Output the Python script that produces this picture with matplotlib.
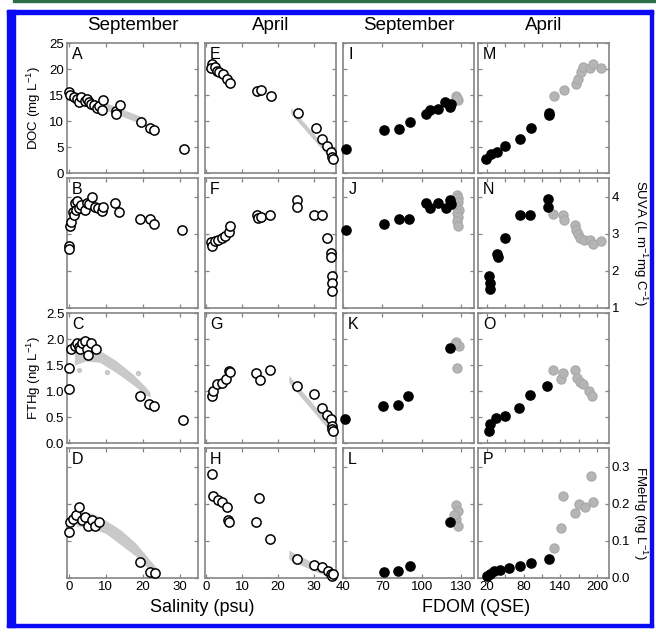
import matplotlib
matplotlib.use('Agg')
import matplotlib.pyplot as plt
from matplotlib.patches import Rectangle

plt.rcParams['font.family'] = ['Liberation Sans', 'DejaVu Sans']
plt.rcParams['mathtext.default'] = 'regular'

# ---- data ----
months = ['September', 'April', 'September', 'April']

# Row 1: DOC (mg/L)
a_sal = [0.1, 0.3, 1.35, 2.2, 2.7, 3.4, 4.3, 5.0, 5.5, 6.1, 6.8, 7.5, 8.1, 9.0, 9.3, 12.7, 12.7, 13.8, 19.6, 21.9, 23.2, 31.2]
a_doc = [15.5, 15.0, 14.6, 14.3, 13.7, 14.6, 13.9, 14.3, 13.6, 13.3, 13.0, 12.5, 12.8, 12.2, 14.1, 12.0, 11.3, 13.1, 9.9, 8.6, 8.2, 4.7]
a_band_sal = [2, 6, 10, 14, 18, 20.5]
a_band_lo = [13.6, 12.9, 12.1, 11.0, 9.9, 9.3]
a_band_hi = [15.0, 14.3, 13.5, 12.4, 11.3, 10.7]

e_sal = [1.6, 1.3, 2.5, 3.1, 3.7, 4.6, 5.7, 6.7, 14.1, 15.3, 18.1, 25.6, 30.5, 32.3, 33.7, 34.6, 35.1, 35.2]
e_doc = [21.0, 20.1, 20.3, 19.7, 19.4, 19.0, 18.1, 17.3, 15.7, 16.0, 14.9, 11.5, 8.6, 6.5, 5.2, 4.1, 3.0, 2.6]
e_band_sal = [23.5, 27, 30, 33, 35.8]
e_band_lo = [11.4, 8.7, 6.3, 4.0, 1.8]
e_band_hi = [12.6, 9.9, 7.5, 5.2, 3.0]

i_fdom = [42.3, 71.5, 83.1, 90.8, 103.6, 106.2, 112.6, 117.9, 121.8, 122.3]
i_doc = [4.7, 8.3, 8.5, 9.9, 11.3, 12.1, 12.4, 13.6, 12.6, 13.3]
i_fdom_g = [126.2, 127.9, 127.0]
i_doc_g = [14.8, 14.0, 14.4]

m_fdom = [18.7, 26.9, 36.8, 50.0, 73.1, 91.3, 121.0, 121.0]
m_doc = [2.65, 3.6, 4.1, 5.2, 6.5, 8.6, 11.5, 11.2]
m_fdom_g = [129.0, 145.6, 165.4, 168.5, 173.6, 176.9, 188.5, 193.4, 206.6]
m_doc_g = [14.9, 15.9, 17.2, 18.1, 19.4, 20.4, 20.1, 21.0, 20.1]

# Row 2: SUVA
b_sal = [0.1, 0.1, 0.3, 0.7, 1.0, 1.35, 1.6, 1.9, 2.2, 2.8, 3.4, 4.3, 5.0, 5.5, 6.4, 7.0, 7.8, 9.1, 9.3, 12.4, 13.6, 19.4, 21.9, 23.2, 30.7]
b_suva = [2.68, 2.59, 3.2, 3.32, 3.59, 3.5, 3.82, 3.63, 3.89, 3.68, 3.77, 3.63, 3.82, 3.79, 4.0, 3.72, 3.68, 3.62, 3.72, 3.82, 3.59, 3.39, 3.39, 3.25, 3.09]

f_sal = [1.3, 1.6, 2.5, 3.4, 4.4, 5.3, 6.5, 6.7, 14.1, 14.3, 15.3, 17.8, 25.2, 25.2, 30.0, 32.3, 33.5, 34.6, 34.6, 35.1, 34.9, 34.9]
f_suva = [2.77, 2.68, 2.80, 2.82, 2.89, 2.95, 3.04, 3.2, 3.5, 3.41, 3.45, 3.5, 3.91, 3.71, 3.5, 3.5, 2.89, 2.47, 2.38, 1.86, 1.68, 1.47]

j_fdom = [42.3, 71.0, 82.6, 90.2, 103.1, 106.2, 112.6, 118.5, 121.8, 122.3]
j_suva = [3.09, 3.25, 3.39, 3.39, 3.82, 3.70, 3.82, 3.68, 3.91, 3.79]
j_fdom_g = [127.0, 128.0, 127.5, 126.5, 128.2, 127.0, 127.8, 126.8, 127.6]
j_suva_g = [4.04, 3.95, 3.85, 3.75, 3.65, 3.55, 3.45, 3.35, 3.22]

n_fdom = [22.4, 24.0, 24.0, 36.4, 37.3, 50.0, 73.6, 90.0, 119.8, 119.8]
n_suva = [1.86, 1.68, 1.50, 2.45, 2.36, 2.89, 3.5, 3.5, 3.93, 3.72]
n_fdom_g = [128.6, 143.5, 145.1, 163.7, 165.4, 169.3, 172.4, 179.0, 188.5, 193.0, 206.6]
n_suva_g = [3.54, 3.5, 3.36, 3.23, 3.09, 2.98, 2.89, 2.82, 2.82, 2.71, 2.8]

# Row 3: FTHg (ng/L)
c_sal = [0.0, 0.1, 0.5, 1.6, 2.2, 2.8, 3.0, 3.7, 4.3, 5.0, 5.2, 5.9, 7.3, 19.2, 21.6, 23.1, 30.9]
c_thg = [1.04, 1.45, 1.81, 1.86, 1.93, 1.85, 1.80, 1.93, 1.96, 1.81, 1.69, 1.93, 1.80, 0.91, 0.75, 0.71, 0.45]
c_band_sal = [1.5, 4.7, 8.4, 12.9, 17.4, 20.5, 22.0]
c_band_lo = [1.50, 1.58, 1.55, 1.35, 1.12, 0.94, 0.88]
c_band_hi = [1.76, 1.82, 1.78, 1.58, 1.32, 1.10, 0.98]
c_dot_sal = [2.7, 10.3, 18.8, 20.0, 6.0]
c_dot_thg = [1.40, 1.37, 1.35, 1.05, 1.62]

g_sal = [1.6, 2.0, 3.0, 4.4, 5.5, 6.5, 6.7, 13.8, 15.0, 17.8, 25.2, 30.1, 32.1, 33.5, 34.6, 34.9, 34.9, 35.2]
g_thg = [0.91, 1.00, 1.13, 1.16, 1.24, 1.39, 1.37, 1.34, 1.21, 1.40, 1.10, 0.94, 0.67, 0.53, 0.46, 0.32, 0.27, 0.24]
g_band_sal = [23, 26, 29, 32, 35.4]
g_band_lo = [1.16, 0.91, 0.67, 0.42, 0.14]
g_band_hi = [1.30, 1.05, 0.81, 0.56, 0.28]

k_fdom = [41.5, 70.5, 82.1, 89.8, 121.8]
k_thg = [0.46, 0.71, 0.73, 0.91, 1.82]
k_fdom_g = [126.2, 128.2, 126.9, 125.5]
k_thg_g = [1.94, 1.86, 1.45, 1.90]

o_fdom = [22.4, 25.3, 35.2, 50.0, 71.9, 89.6, 118.7]
o_thg = [0.24, 0.37, 0.48, 0.52, 0.67, 0.93, 1.09]
o_fdom_g = [128.0, 140.6, 144.5, 164.3, 166.6, 172.4, 177.4, 187.3, 191.8]
o_thg_g = [1.40, 1.23, 1.34, 1.40, 1.25, 1.18, 1.13, 1.00, 0.91]

# Row 4: FMeHg (ng/L)
d_sal = [0.0, 0.2, 1.0, 1.9, 2.7, 3.6, 4.5, 5.3, 6.2, 7.2, 8.1, 19.2, 21.9, 23.4]
d_mehg = [0.125, 0.15, 0.16, 0.17, 0.19, 0.155, 0.165, 0.14, 0.155, 0.14, 0.15, 0.043, 0.015, 0.014]
d_band_sal = [2, 6, 10, 14, 18, 21, 23.5]
d_band_lo = [0.14, 0.135, 0.12, 0.09, 0.06, 0.03, 0.012]
d_band_hi = [0.18, 0.175, 0.155, 0.13, 0.095, 0.06, 0.03]

h_sal = [1.7, 1.9, 3.2, 4.4, 5.7, 6.1, 6.4, 14.7, 13.9, 17.8, 25.3, 30.0, 32.2, 33.9, 34.7, 35.1, 35.2]
h_mehg = [0.28, 0.22, 0.21, 0.205, 0.19, 0.155, 0.15, 0.215, 0.15, 0.105, 0.05, 0.035, 0.03, 0.02, 0.012, 0.006, 0.012]
h_band_sal = [23, 27, 31, 35.5]
h_band_lo = [0.05, 0.032, 0.015, 0.0]
h_band_hi = [0.075, 0.055, 0.035, 0.012]

l_fdom = [71.5, 82.0, 90.8, 121.8]
l_mehg = [0.015, 0.02, 0.032, 0.15]
l_fdom_g = [126.2, 127.7, 126.2, 127.7, 124.8]
l_mehg_g = [0.197, 0.18, 0.16, 0.14, 0.17]

p_fdom = [20.0, 25.3, 31.9, 41.8, 55.0, 73.1, 91.3, 121.0]
p_mehg = [0.005, 0.012, 0.018, 0.022, 0.027, 0.032, 0.04, 0.05]
p_fdom_g = [129.0, 140.6, 143.9, 163.7, 170.3, 180.2, 190.1, 193.4]
p_mehg_g = [0.08, 0.135, 0.22, 0.175, 0.2, 0.19, 0.275, 0.205]

# axis setup
x_lims = [(-0.5, 35), (-0.3, 36.1), (40, 140), (5, 219.5)]
x_ticks = [[0, 10, 20, 30], [0, 10, 20, 30], [40, 70, 100, 130], [20, 50, 80, 110, 140, 170, 200]]
x_labels = [['0', '10', '20', '30'], ['0', '10', '20', '30'], ['40', '70', '100', '130'],
            ['20', '', '80', '', '140', '', '200']]
y_lims = [(0, 25), (1, 4.5), (0, 2.5), (0, 0.35)]
y_ticks = [[0, 5, 10, 15, 20, 25], [1, 2, 3, 4], [0, 0.5, 1.0, 1.5, 2.0, 2.5], [0, 0.1, 0.2, 0.3]]
y_labels = [['0', '5', '10', '15', '20', '25'], ['1', '2', '3', '4'],
            ['0.0', '0.5', '1.0', '1.5', '2.0', '2.5'], ['0.0', '0.1', '0.2', '0.3']]
letters = [['A', 'E', 'I', 'M'], ['B', 'F', 'J', 'N'], ['C', 'G', 'K', 'O'], ['D', 'H', 'L', 'P']]

W, H = 656, 632
fig = plt.figure(figsize=(W / 100, H / 100), dpi=100)
col_left = [67, 205, 343, 478]
row_top = [43, 178, 313, 448]
aw, ah = 131, 130

GRAY_BAND = '#c9c9c9'
GRAY_PT = '#b5b5b5'
MS = 44

axes = {}
for r in range(4):
    for c in range(4):
        ax = fig.add_axes([col_left[c] / W, 1 - (row_top[r] + ah) / H, aw / W, ah / H])
        for s in ax.spines.values():
            s.set_color('#858585')
            s.set_linewidth(1.2)
        ax.set_xlim(*x_lims[c])
        ax.set_ylim(*y_lims[r])
        ax.set_xticks(x_ticks[c])
        ax.set_xticklabels(x_labels[c])
        ax.set_yticks(y_ticks[r])
        ax.set_yticklabels(y_labels[r])
        ax.tick_params(direction='in', top=True, right=True, length=3, width=0.9,
                       color='#858585', labelsize=9.5, pad=2,
                       labelbottom=(r == 3),
                       labelleft=(c == 0 and r in (0, 2)),
                       labelright=(c == 3 and r in (1, 3)))
        ax.text(0.04, 0.97, letters[r][c], transform=ax.transAxes, ha='left', va='top', fontsize=11.5)
        axes[(r, c)] = ax


def open_pts(ax, x, y):
    ax.scatter(x, y, s=MS, facecolor='white', edgecolor='black', linewidth=1.1, zorder=4, clip_on=False)


def black_pts(ax, x, y):
    ax.scatter(x, y, s=MS, facecolor='black', edgecolor='black', linewidth=1.0, zorder=4, clip_on=False)


def gray_pts(ax, x, y):
    ax.scatter(x, y, s=MS, facecolor=GRAY_PT, edgecolor='#a8a8a8', linewidth=0.8, zorder=3, clip_on=False)


def band(ax, x, lo, hi):
    ax.fill_between(x, lo, hi, color=GRAY_BAND, linewidth=0, zorder=1)


# column 1: September salinity
band(axes[(0, 0)], a_band_sal, a_band_lo, a_band_hi)
open_pts(axes[(0, 0)], a_sal, a_doc)
open_pts(axes[(1, 0)], b_sal, b_suva)
band(axes[(2, 0)], c_band_sal, c_band_lo, c_band_hi)
axes[(2, 0)].scatter(c_dot_sal, c_dot_thg, s=8, color=GRAY_BAND, zorder=1)
open_pts(axes[(2, 0)], c_sal, c_thg)
band(axes[(3, 0)], d_band_sal, d_band_lo, d_band_hi)
open_pts(axes[(3, 0)], d_sal, d_mehg)

# column 2: April salinity
band(axes[(0, 1)], e_band_sal, e_band_lo, e_band_hi)
open_pts(axes[(0, 1)], e_sal, e_doc)
open_pts(axes[(1, 1)], f_sal, f_suva)
band(axes[(2, 1)], g_band_sal, g_band_lo, g_band_hi)
open_pts(axes[(2, 1)], g_sal, g_thg)
band(axes[(3, 1)], h_band_sal, h_band_lo, h_band_hi)
open_pts(axes[(3, 1)], h_sal, h_mehg)

# column 3: September FDOM
gray_pts(axes[(0, 2)], i_fdom_g, i_doc_g)
black_pts(axes[(0, 2)], i_fdom, i_doc)
gray_pts(axes[(1, 2)], j_fdom_g, j_suva_g)
black_pts(axes[(1, 2)], j_fdom, j_suva)
gray_pts(axes[(2, 2)], k_fdom_g, k_thg_g)
black_pts(axes[(2, 2)], k_fdom, k_thg)
gray_pts(axes[(3, 2)], l_fdom_g, l_mehg_g)
black_pts(axes[(3, 2)], l_fdom, l_mehg)

# column 4: April FDOM
gray_pts(axes[(0, 3)], m_fdom_g, m_doc_g)
black_pts(axes[(0, 3)], m_fdom, m_doc)
gray_pts(axes[(1, 3)], n_fdom_g, n_suva_g)
black_pts(axes[(1, 3)], n_fdom, n_suva)
gray_pts(axes[(2, 3)], o_fdom_g, o_thg_g)
black_pts(axes[(2, 3)], o_fdom, o_thg)
gray_pts(axes[(3, 3)], p_fdom_g, p_mehg_g)
black_pts(axes[(3, 3)], p_fdom, p_mehg)

# titles and labels
for c in range(4):
    fig.text((col_left[c] + aw / 2) / W, 1 - 25 / H, months[c], ha='center', va='center', fontsize=13.5)

fig.text(34 / W, 1 - 108 / H, 'DOC (mg L$^{-1}$)', rotation=90, ha='center', va='center', fontsize=9.5)
fig.text(34 / W, 1 - 378 / H, 'FTHg (ng L$^{-1}$)', rotation=90, ha='center', va='center', fontsize=9.5)
fig.text(640 / W, 1 - 243 / H, 'SUVA (L m$^{-1}$mg C$^{-1}$)', rotation=270, ha='center', va='center', fontsize=9.5)
fig.text(640 / W, 1 - 513 / H, 'FMeHg (ng L$^{-1}$)', rotation=270, ha='center', va='center', fontsize=9.5)
fig.text(202 / W, 1 - 607 / H, 'Salinity (psu)', ha='center', va='center', fontsize=13)
fig.text(476 / W, 1 - 607 / H, 'FDOM (QSE)', ha='center', va='center', fontsize=13)

# page frame
fig.patches.append(Rectangle((13 / W, 1 - 2 / H), 1, 2 / H, transform=fig.transFigure, color='#2e6e46', zorder=0))
blue = '#0a0af5'
fig.patches.append(Rectangle((7 / W, 1 - 14 / H), 646 / W, 4 / H, transform=fig.transFigure, color=blue))
fig.patches.append(Rectangle((7 / W, 1 - 627 / H), 8 / W, 617 / H, transform=fig.transFigure, color=blue))
fig.patches.append(Rectangle((650 / W, 1 - 627 / H), 3 / W, 617 / H, transform=fig.transFigure, color=blue))
fig.patches.append(Rectangle((7 / W, 1 - 627 / H), 646 / W, 3 / H, transform=fig.transFigure, color=blue))

fig.savefig('out.png', dpi=100)
